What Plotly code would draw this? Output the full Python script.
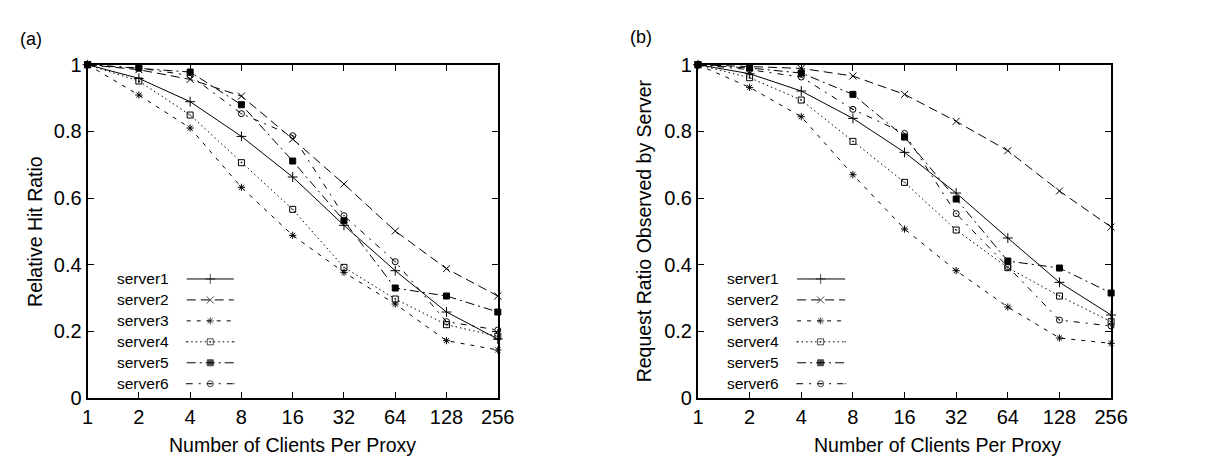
import math
import plotly.graph_objects as go

clients = [1, 2, 4, 8, 16, 32, 64, 128, 256]
tick_labels = ["1", "2", "4", "8", "16", "32", "64", "128", "256"]
y_ticks = [0, 0.2, 0.4, 0.6, 0.8, 1]
y_tick_labels = ["0", "0.2", "0.4", "0.6", "0.8", "1"]
series_names = ["server1", "server2", "server3", "server4", "server5", "server6"]

# (a) Relative Hit Ratio
hit_server1 = [1, 0.959, 0.889, 0.785, 0.663, 0.518, 0.382, 0.258, 0.177]
hit_server2 = [1, 0.985, 0.956, 0.906, 0.777, 0.642, 0.501, 0.388, 0.306]
hit_server3 = [1, 0.909, 0.810, 0.632, 0.488, 0.377, 0.282, 0.172, 0.144]
hit_server4 = [1, 0.951, 0.849, 0.706, 0.566, 0.392, 0.297, 0.220, 0.185]
hit_server5 = [1, 0.990, 0.978, 0.880, 0.711, 0.532, 0.330, 0.306, 0.258]
hit_server6 = [1, 0.990, 0.968, 0.853, 0.787, 0.547, 0.409, 0.229, 0.204]

# (b) Request Ratio Observed by Server
req_server1 = [1, 0.973, 0.921, 0.839, 0.737, 0.615, 0.480, 0.347, 0.249]
req_server2 = [1, 0.995, 0.989, 0.966, 0.911, 0.830, 0.742, 0.621, 0.513]
req_server3 = [1, 0.932, 0.844, 0.670, 0.507, 0.382, 0.273, 0.180, 0.164]
req_server4 = [1, 0.961, 0.894, 0.770, 0.647, 0.504, 0.391, 0.306, 0.229]
req_server5 = [1, 0.990, 0.975, 0.911, 0.783, 0.597, 0.411, 0.390, 0.315]
req_server6 = [1, 0.985, 0.963, 0.866, 0.794, 0.553, 0.394, 0.234, 0.216]

hit = [hit_server1, hit_server2, hit_server3, hit_server4, hit_server5, hit_server6]
req = [req_server1, req_server2, req_server3, req_server4, req_server5, req_server6]

styles = [
    dict(dash="solid", symbol="cross-thin", size=7),
    dict(dash="9px,5px", symbol="x-thin", size=7),
    dict(dash="4px,6px", symbol="asterisk", size=6),
    dict(dash="1.5px,3px", symbol="square-open-dot", size=6),
    dict(dash="9px,4px,2px,4px", symbol="square", size=6),
    dict(dash="6px,6px,2px,6px", symbol="circle-open-dot", size=6),
]

FONT = "Liberation Sans, Arial, sans-serif"
W, H = 1231, 461
fig = go.Figure()

for vals, xa, ya in [(hit, "x", "y"), (req, "x2", "y2")]:
    for name, v, st in zip(series_names, vals, styles):
        fig.add_trace(go.Scatter(
            x=clients, y=v, name=name, mode="lines+markers",
            xaxis=xa, yaxis=ya, showlegend=False, cliponaxis=False,
            line=dict(color="black", width=1, dash=st["dash"]),
            marker=dict(symbol=st["symbol"], size=st["size"], color="black",
                        line=dict(color="black", width=1)),
        ))

# Manual legends (text left, sample right), in pixel coordinates on an overlay axis
legend_cfg = [
    dict(text_x=103, x0=176, xm=200, x1=224),
    dict(text_x=725, x0=798, xm=822, x1=847),
]
row_y = [273, 295, 317, 339, 361, 383]
annotations = []
for cfg in legend_cfg:
    for name, st, ry in zip(series_names, styles, row_y):
        fig.add_trace(go.Scatter(
            x=[cfg["x0"], cfg["xm"], cfg["x1"]], y=[ry, ry, ry],
            mode="lines+markers", xaxis="x3", yaxis="y3", showlegend=False,
            hoverinfo="skip", cliponaxis=False,
            line=dict(color="black", width=1, dash=st["dash"]),
            marker=dict(symbol=st["symbol"], size=[0, st["size"], 0], color="black",
                        line=dict(color="black", width=1)),
        ))
        annotations.append(dict(x=cfg["text_x"], y=ry, xref="x3", yref="y3",
                                text=name, showarrow=False, xanchor="left",
                                yanchor="middle",
                                font=dict(family=FONT, size=15.5, color="black")))

# Titles and panel labels
annotations += [
    dict(x=284, y=447, text="Number of Clients Per Proxy"),
    dict(x=941, y=447, text="Number of Clients Per Proxy"),
    dict(x=22, y=223, text="Relative Hit Ratio", textangle=-90),
    dict(x=642, y=223, text="Request Ratio Observed by Server", textangle=-90),
]
for a in annotations[-4:]:
    a.update(xref="x3", yref="y3", showarrow=False, xanchor="center",
             yanchor="middle", font=dict(family=FONT, size=19.5, color="black"))
annotations += [
    dict(x=4, y=21, text="(a)", xref="x3", yref="y3", showarrow=False,
         xanchor="left", yanchor="middle", font=dict(family=FONT, size=18, color="black")),
    dict(x=626, y=19, text="(b)", xref="x3", yref="y3", showarrow=False,
         xanchor="left", yanchor="middle", font=dict(family=FONT, size=18, color="black")),
]

def xax(dom, anchor):
    return dict(domain=dom, anchor=anchor, type="log", range=[0, math.log10(256)],
                tickvals=clients, ticktext=tick_labels, showgrid=False, zeroline=False,
                showline=True, linecolor="black", linewidth=2, mirror="ticks",
                ticks="inside", ticklen=6, tickwidth=1, tickcolor="black",
                tickfont=dict(family=FONT, size=20, color="black"))

def yax(anchor):
    return dict(domain=[(H - 398) / H, (H - 48) / H], anchor=anchor, range=[0, 1],
                tickvals=y_ticks, ticktext=y_tick_labels, showgrid=False, zeroline=False,
                showline=True, linecolor="black", linewidth=2, mirror="ticks",
                ticks="inside", ticklen=6, tickwidth=1, tickcolor="black",
                tickfont=dict(family=FONT, size=20, color="black"))

fig.update_layout(
    width=W, height=H, margin=dict(l=0, r=0, t=0, b=0),
    paper_bgcolor="white", plot_bgcolor="rgba(0,0,0,0)",
    xaxis=xax([75 / W, 493 / W], "y"),
    yaxis=yax("x"),
    xaxis2=xax([697 / W, 1118 / W], "y2"),
    yaxis2=yax("x2"),
    xaxis3=dict(domain=[0, 1], range=[0, W], visible=False, anchor="y3"),
    yaxis3=dict(domain=[0, 1], range=[H, 0], visible=False, anchor="x3"),
    annotations=annotations,
    showlegend=False,
)

fig.write_html("out.html")
